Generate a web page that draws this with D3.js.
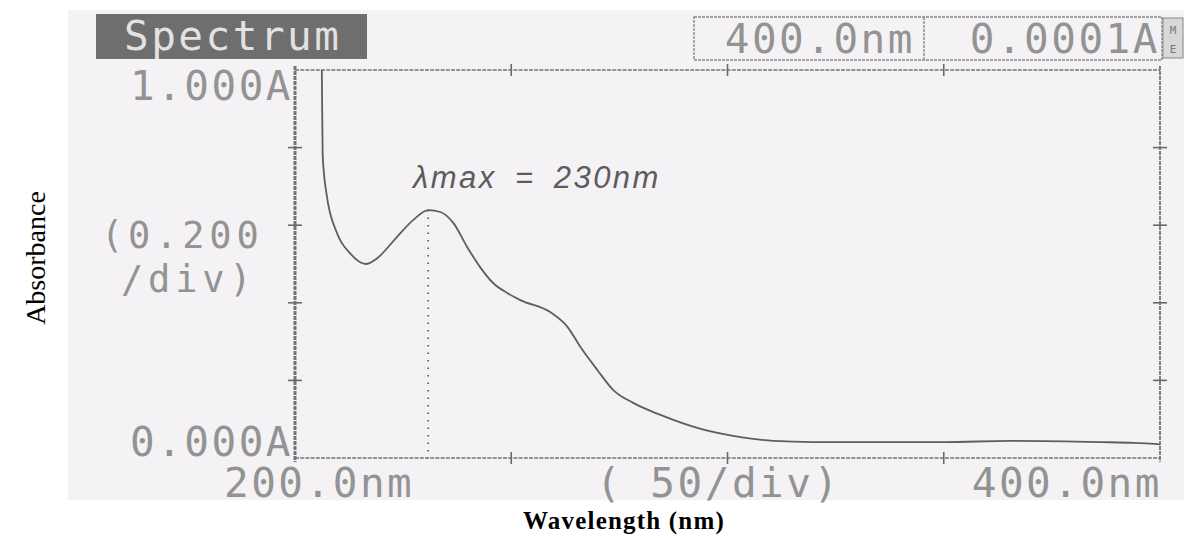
<!DOCTYPE html>
<html><head><meta charset="utf-8">
<script src="https://cdn.jsdelivr.net/npm/d3@7"></script>
<style>html,body{margin:0;padding:0;background:#fff;} svg{display:block}</style>
</head><body><svg id="c" width="1184" height="538"></svg>
<script>
// ---- data ----
const wavelength = [206.0, 206.2, 206.4, 207.3, 209.7, 212.7, 216.4, 219.0, 223.6, 227.3, 230.8, 233.6, 236.6, 239.8, 242.8, 245.8, 249.1, 252.1, 259.0, 263.0, 266.0, 269.9, 273.6, 278.2, 284.5, 293.8, 303.0, 310.6, 319.9, 335.4, 350.0, 365.5, 386.3, 394.0, 399.5, 400.0];
const absorbance = [1.10, 1.00, 0.78, 0.68, 0.58, 0.528, 0.50, 0.515, 0.57, 0.613, 0.639, 0.634, 0.606, 0.544, 0.492, 0.451, 0.425, 0.407, 0.376, 0.338, 0.286, 0.227, 0.175, 0.142, 0.111, 0.075, 0.054, 0.044, 0.041, 0.041, 0.041, 0.044, 0.041, 0.039, 0.036, 0.035];
const xTicks = [200, 250, 300, 350, 400];
const yTicks = [0, 0.2, 0.4, 0.6, 0.8, 1.0];
const xLabels = ["200.0nm", "( 50/div)", "400.0nm"];
const yLabels = ["1.000A", "(0.200", "/div)", "0.000A"];
const headerLabels = ["Spectrum", "400.0nm", "0.0001A"];
const annotation = "λmax = 230nm";
const xTitle = "Wavelength (nm)";
const yTitle = "Absorbance";

const svg = d3.select("#c");
const W = 1184, H = 538;
const m = {left: 295, right: 1160, top: 70, bottom: 458};
const x = d3.scaleLinear().domain([200, 400]).range([m.left, m.right]);
const y = d3.scaleLinear().domain([0, 1]).range([m.bottom, m.top]);

const mono = "'DejaVu Sans Mono', 'Liberation Mono', monospace";
const txtCol = "#939393";
const FS = 41, LS = 2.5;

// scanned paper
svg.append("rect").attr("x", 68).attr("y", 10).attr("width", W - 68).attr("height", 490).attr("fill", "#f4f2f5");

// header: Spectrum box
svg.append("rect").attr("x", 96).attr("y", 14).attr("width", 271).attr("height", 45).attr("fill", "#6e6e6e");
svg.append("text").attr("x", 124).attr("y", 50).attr("font-family", mono).attr("font-size", FS)
  .attr("letter-spacing", LS).attr("fill", "#e2e2e2").text(headerLabels[0]);

// header: right box
const hb = svg.append("g").attr("fill", "none").attr("stroke", "#8a8a8a").attr("stroke-width", 1.4).attr("stroke-dasharray", "3,1");
hb.append("rect").attr("x", 694).attr("y", 17).attr("width", 468).attr("height", 43);
hb.append("line").attr("x1", 924).attr("x2", 924).attr("y1", 17).attr("y2", 60);
svg.append("text").attr("x", 915).attr("y", 53).attr("text-anchor", "end").attr("font-family", mono)
  .attr("font-size", FS).attr("letter-spacing", LS).attr("fill", txtCol).text(headerLabels[1]);
svg.append("text").attr("x", 1160).attr("y", 53).attr("text-anchor", "end").attr("font-family", mono)
  .attr("font-size", FS).attr("letter-spacing", LS).attr("fill", txtCol).text(headerLabels[2]);
// small status icon
svg.append("rect").attr("x", 1163).attr("y", 18).attr("width", 20).attr("height", 40).attr("fill", "#d8d8d8").attr("stroke", "#888").attr("stroke-width", 1);
svg.append("text").attr("x", 1173).attr("y", 34).attr("text-anchor", "middle").attr("font-family", mono).attr("font-size", 11).attr("fill", "#777").text("M");
svg.append("text").attr("x", 1173).attr("y", 53).attr("text-anchor", "middle").attr("font-family", mono).attr("font-size", 11).attr("fill", "#777").text("E");

// frame
const fr = svg.append("g").attr("stroke", "#747474").attr("fill", "none");
fr.append("line").attr("x1", x(200)).attr("x2", x(400)).attr("y1", y(1)).attr("y2", y(1)).attr("stroke-width", 1.6).attr("stroke-dasharray", "4,1.2");
fr.append("line").attr("x1", x(200)).attr("x2", x(400)).attr("y1", y(0)).attr("y2", y(0)).attr("stroke-width", 1.6).attr("stroke-dasharray", "4,1.2");
fr.append("line").attr("x1", x(200)).attr("x2", x(200)).attr("y1", y(1) - 4).attr("y2", y(0) + 4).attr("stroke-width", 3).attr("stroke-dasharray", "4,1");
fr.append("line").attr("x1", x(400)).attr("x2", x(400)).attr("y1", y(1) - 4).attr("y2", y(0) + 4).attr("stroke-width", 1.8).attr("stroke-dasharray", "4,1");

// tick crosses
const tk = svg.append("g").attr("stroke", "#6a6a6a").attr("stroke-width", 1.6);
xTicks.slice(1, -1).forEach(t => {
  [y(1), y(0)].forEach(yy => tk.append("line").attr("x1", x(t)).attr("x2", x(t)).attr("y1", yy - 6).attr("y2", yy + 6));
});
yTicks.slice(1, -1).forEach(t => {
  [x(200), x(400)].forEach(xx => tk.append("line").attr("x1", xx - 7).attr("x2", xx + 7).attr("y1", y(t)).attr("y2", y(t)));
});

// axis labels (printer text)
const lab = (t, xx, yy, anchor, fs, ls) => svg.append("text").attr("x", xx).attr("y", yy).attr("text-anchor", anchor || "start")
  .attr("font-family", mono).attr("font-size", fs || FS).attr("letter-spacing", ls === undefined ? LS : ls).attr("fill", txtCol).text(t);
lab(yLabels[0], x(200) - 2, y(1) + 30, "end");
lab(yLabels[1], 101, 248, "start", 37, 4.8);
lab(yLabels[2], 121, 292, "start", 37, 4.8);
lab(yLabels[3], x(200) - 2, y(0) - 2, "end");
lab(xLabels[0], 224, 497);
lab(xLabels[1], 596, 497);
lab(xLabels[2], 1162, 497, "end");

// curve
svg.append("clipPath").attr("id", "clip").append("rect").attr("x", m.left).attr("y", m.top).attr("width", m.right - m.left).attr("height", m.bottom - m.top);
const pts = wavelength.map((w, i) => [w, absorbance[i]]);
const line = d3.line().x(d => x(d[0])).y(d => y(d[1])).curve(d3.curveMonotoneX);
svg.append("path").datum(pts).attr("clip-path", "url(#clip)").attr("d", line)
  .attr("fill", "none").attr("stroke", "#5e5e5e").attr("stroke-width", 1.8);

// lambda max marker
let pk = 0;
pts.forEach((p, i) => { if (p[0] > 215 && p[0] < 260 && (pk === 0 || p[1] > pts[pk][1])) pk = i; });
svg.append("line").attr("x1", x(pts[pk][0])).attr("x2", x(pts[pk][0])).attr("y1", y(pts[pk][1])).attr("y2", y(0))
  .attr("stroke", "#555").attr("stroke-width", 1.6).attr("stroke-dasharray", "1.5,6");
svg.append("text").attr("x", 413).attr("y", 188).attr("font-family", "'Liberation Sans', Arial, sans-serif")
  .attr("font-style", "italic").attr("font-size", 31).attr("letter-spacing", 2.5).attr("word-spacing", 7)
  .attr("fill", "#5c5c5c").text(annotation);

// titles
svg.append("text").attr("x", 624).attr("y", 529).attr("text-anchor", "middle").attr("font-family", "'Liberation Serif', 'Times New Roman', serif")
  .attr("font-weight", "bold").attr("font-size", 25).attr("letter-spacing", 1.2).attr("fill", "#000").text(xTitle);
svg.append("text").attr("transform", "translate(45,258) rotate(-90)").attr("text-anchor", "middle")
  .attr("font-family", "'Liberation Serif', 'Times New Roman', serif").attr("font-size", 28).attr("fill", "#000").text(yTitle);
</script></body></html>
